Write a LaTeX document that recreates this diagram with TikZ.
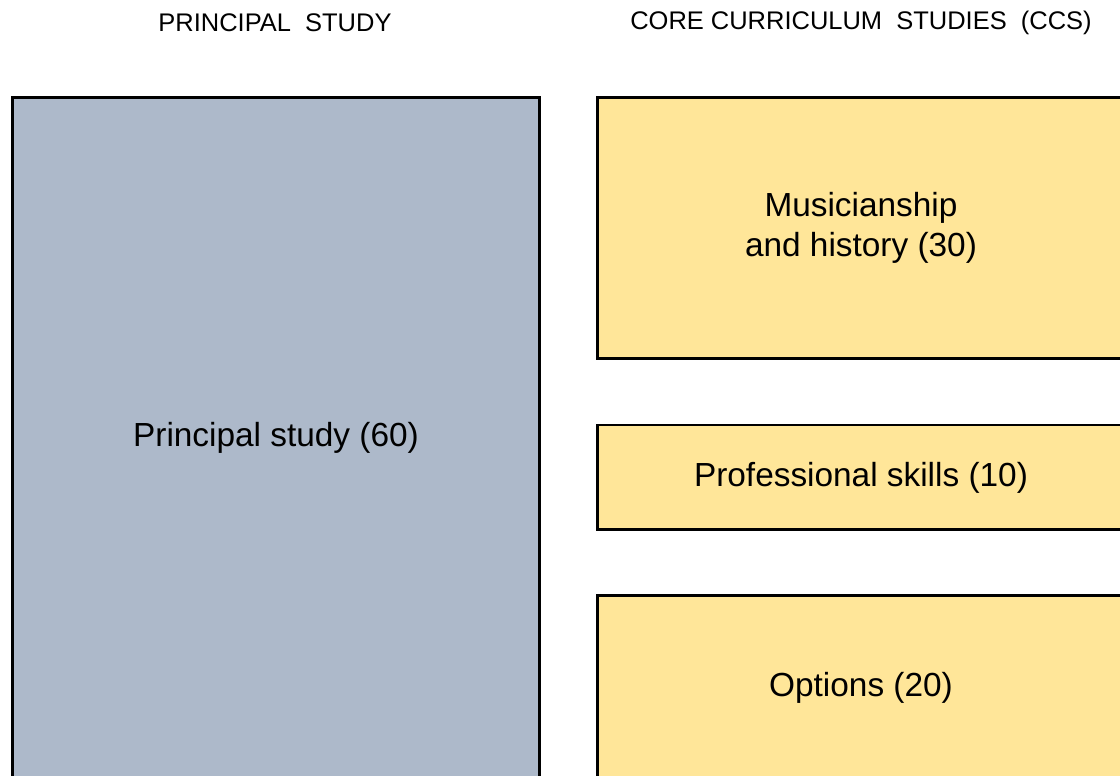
\documentclass[tikz,border=0pt]{standalone}
\usepackage{fontspec}
\setmainfont{Liberation Sans}
\usepackage{xcolor}
\usepackage{tikz}
\usetikzlibrary{positioning}

\definecolor{psgrey}{HTML}{ADB9CA}
\definecolor{ccsyellow}{HTML}{FFE699}

\begin{document}
\begin{tikzpicture}[x=0.02cm, y=-0.02cm,
  heading/.style={font=\fontsize{14.5}{17}\selectfont, inner sep=0pt},
  block/.style={draw=black, line width=1.7pt, align=center, inner sep=0pt,
    font=\fontsize{19}{22.7}\selectfont, minimum width=10.56cm},
  principal/.style={block, fill=psgrey},
  core/.style={block, fill=ccsyellow}]
\useasboundingbox (0,0) rectangle (1120,776);
\clip (0,0) rectangle (1120,776);
% Headings
\node[heading] (hps) at (275,23) {PRINCIPAL\ \ STUDY};
\node[heading] (hccs) at (861,23) {CORE CURRICULUM\ \ STUDIES\ \ (CCS)};
% Blocks
\node[principal, minimum height=13.64cm] (ps) at (276,438) {Principal study (60)};
\node[core, minimum height=5.24cm] (mus) at (861,228) {Musicianship\\and history (30)};
\node[core, minimum height=2.1cm] (prof) at (861,477.5) {Professional skills (10)};
\node[core, minimum height=3.72cm] (opt) at (861,688) {Options (20)};
\end{tikzpicture}
\end{document}
